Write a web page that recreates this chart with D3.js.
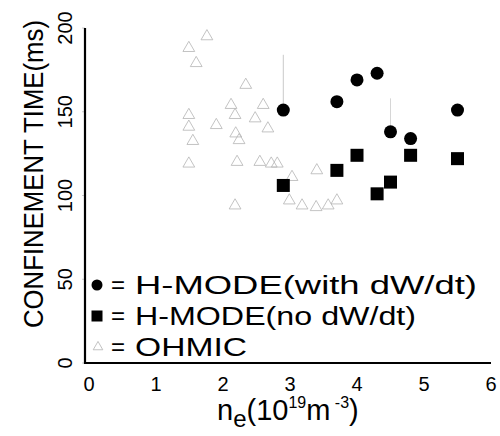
<!DOCTYPE html>
<html><head><meta charset="utf-8">
<script src="https://cdn.jsdelivr.net/npm/d3@7"></script>
<style>body{margin:0;background:#fff}svg{display:block}</style>
</head><body>
<svg id="c" width="500" height="436"></svg>
<script>
// H-MODE with dW/dt (circles)
const hWithX = [2.9, 3.7, 4.0, 4.3, 4.5, 4.8, 5.5];
const hWithY = [151, 156, 169, 173, 138, 134, 151];
// H-MODE no dW/dt (squares)
const hNoX = [2.9, 3.7, 4.0, 4.3, 4.5, 4.8, 5.5];
const hNoY = [106, 115, 124, 101, 108, 124, 122];
// OHMIC (open triangles)
const ohX = [1.49, 1.76, 1.6, 2.34, 2.12, 2.18, 2.6, 2.48, 2.67, 1.49, 1.49, 1.55, 1.9, 2.19, 2.24,
             1.49, 2.21, 2.55, 2.72, 2.81, 3.03, 3.4, 2.18, 2.99, 3.18, 3.39, 3.57, 3.7];
const ohY = [188, 195, 179, 166, 154, 148, 154, 146, 140, 148, 141, 132.5, 142, 137, 133,
             119, 120, 120, 119, 119, 111, 115, 94, 97, 94, 93, 94, 97];
const xTicks = [0, 1, 2, 3, 4, 5, 6];
const yTicks = [0, 50, 100, 150, 200];
const legendLabels = ["H-MODE(with dW/dt)", "H-MODE(no dW/dt)", "OHMIC"];

const svg = d3.select("#c");
const x = d3.scaleLinear().domain([0, 6]).range([89, 491]);
const y = d3.scaleLinear().domain([0, 200]).range([363, 28]);
const font = "'Liberation Sans', Arial, Helvetica, sans-serif";

// faint left ticks
svg.append("g").selectAll("line").data(yTicks).join("line")
  .attr("x1", 82).attr("x2", 85).attr("y1", d => y(d)).attr("y2", d => y(d))
  .attr("stroke", "#ccc").attr("stroke-width", 1);

// axes lines
svg.append("line").attr("x1", 85).attr("x2", 85).attr("y1", y(200)).attr("y2", y(0) + 1)
  .attr("stroke", "#000").attr("stroke-width", 2.2);
svg.append("line").attr("x1", 84).attr("x2", x(6)).attr("y1", y(0)).attr("y2", y(0))
  .attr("stroke", "#000").attr("stroke-width", 2.2);

// y tick labels (rotated)
svg.append("g").selectAll("text").data(yTicks).join("text")
  .attr("transform", d => `translate(72,${y(d)}) rotate(-90)`)
  .attr("text-anchor", "middle")
  .attr("font-family", font).attr("font-size", 20)
  .text(d => d);

// x tick labels
svg.append("g").selectAll("text").data(xTicks).join("text")
  .attr("x", d => x(d)).attr("y", 391)
  .attr("text-anchor", "middle")
  .attr("font-family", font).attr("font-size", 20)
  .text(d => d);

// y title
svg.append("text")
  .attr("transform", "translate(43,174) rotate(-90)")
  .attr("text-anchor", "middle")
  .attr("font-family", font).attr("font-size", 27)
  .attr("textLength", 308).attr("lengthAdjust", "spacingAndGlyphs")
  .text("CONFINEMENT TIME(ms)");

// x title
const xt = svg.append("text").attr("x", 217).attr("y", 420)
  .attr("font-family", font).attr("font-size", 29);
xt.append("tspan").text("n");
xt.append("tspan").attr("dy", 7).attr("font-size", 24).text("e");
xt.append("tspan").attr("dy", -7).text("(10");
xt.append("tspan").attr("dy", -12).attr("font-size", 16).text("19");
xt.append("tspan").attr("dy", 12).text("m");
xt.append("tspan").attr("dy", -12).attr("font-size", 16).text(" -3");
xt.append("tspan").attr("dy", 12).text(")");

// triangle symbol
const tri = d3.symbol().type(d3.symbolTriangle).size(60);

// faint error-bar lines
svg.append("line").attr("x1", x(2.9)).attr("x2", x(2.9)).attr("y1", y(184)).attr("y2", y(155))
  .attr("stroke", "#bbb").attr("stroke-width", 0.8);
svg.append("line").attr("x1", x(4.5)).attr("x2", x(4.5)).attr("y1", y(158)).attr("y2", y(142))
  .attr("stroke", "#ccc").attr("stroke-width", 0.8);

// OHMIC triangles
svg.append("g").selectAll("path").data(ohX.map((v, i) => [v, ohY[i]])).join("path")
  .attr("d", tri)
  .attr("transform", d => `translate(${x(d[0])},${y(d[1])})`)
  .attr("fill", "none").attr("stroke", "#b4b4b4").attr("stroke-width", 0.8);

// circles
svg.append("g").selectAll("circle").data(hWithX.map((v, i) => [v, hWithY[i]])).join("circle")
  .attr("cx", d => x(d[0])).attr("cy", d => y(d[1])).attr("r", 6.5).attr("fill", "#000");

// squares
const s = 13;
svg.append("g").selectAll("rect").data(hNoX.map((v, i) => [v, hNoY[i]])).join("rect")
  .attr("x", d => x(d[0]) - s / 2).attr("y", d => y(d[1]) - s / 2)
  .attr("width", s).attr("height", s).attr("fill", "#000");

// legend
const ly = [285, 316, 347];
const lw = [342, 281, 112];
svg.append("circle").attr("cx", 97).attr("cy", ly[0]).attr("r", 5.5).attr("fill", "#000");
svg.append("rect").attr("x", 91.5).attr("y", ly[1] - 5.5).attr("width", 11).attr("height", 11).attr("fill", "#000");
svg.append("path").attr("d", d3.symbol().type(d3.symbolTriangle).size(40))
  .attr("transform", `translate(98,${ly[2]})`).attr("fill", "none").attr("stroke", "#bbb").attr("stroke-width", 0.9);
svg.append("g").selectAll("text").data(legendLabels).join("text")
  .attr("x", 111).attr("y", (d, i) => ly[i] + 8)
  .attr("font-family", font).attr("font-size", 24).text("=");
svg.append("g").selectAll("text").data(legendLabels).join("text")
  .attr("x", 135).attr("y", (d, i) => ly[i] + 9)
  .attr("font-family", font).attr("font-size", 25)
  .attr("textLength", (d, i) => lw[i]).attr("lengthAdjust", "spacingAndGlyphs")
  .text(d => d);
</script>
</body></html>
